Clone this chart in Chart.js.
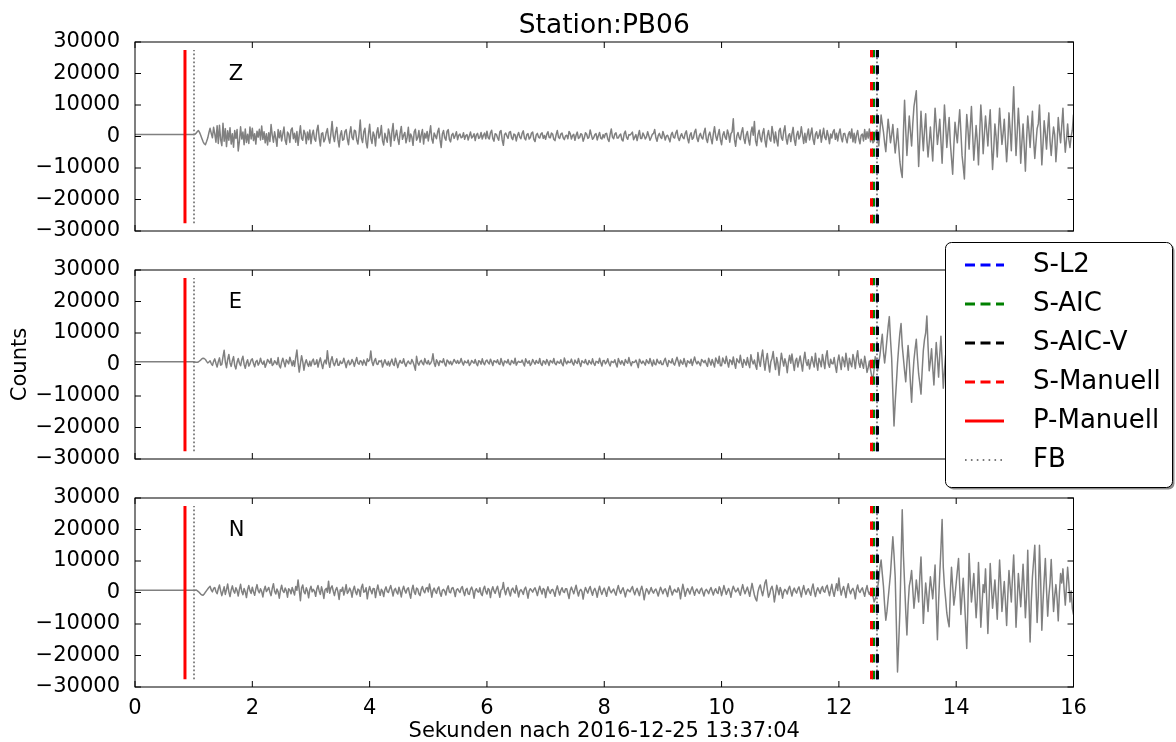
<!DOCTYPE html>
<html>
<head>
<meta charset="utf-8">
<title>Station:PB06</title>
<script src="https://cdn.jsdelivr.net/npm/chart.js@4.4.1/dist/chart.umd.min.js"></script>
<style>
  html, body { margin: 0; padding: 0; background: #fff; }
  #wrap { position: relative; width: 1176px; height: 742px; overflow: hidden; }
  #wrap canvas { position: absolute; left: 0; top: 0; }
</style>
</head>
<body>
<div id="wrap">
  <canvas id="panelZ" width="1176" height="742"></canvas>
  <canvas id="panelE" width="1176" height="742"></canvas>
  <canvas id="panelN" width="1176" height="742"></canvas>
</div>
<script>
// ---- Recorded traces, one sample every 0.02 s from 0 s to 16 s (thousands of counts) ----
// each line holds half a second (25 samples)
const sampleInterval = 0.02;

const traceZ = [
  0.6,0.6,0.6,0.6,0.6,0.6,0.6,0.6,0.6,0.6,0.6,0.6,0.6,0.6,0.6,0.6,0.6,0.6,0.6,0.6,0.6,0.6,0.6,0.6,0.6,
  0.6,0.6,0.6,0.6,0.6,0.6,0.6,0.6,0.6,0.6,0.6,0.6,0.6,0.6,0.6,0.6,0.6,0.6,0.6,0.6,0.6,0.6,0.6,0.6,0.6,
  0.6,0.7,1.0,1.5,1.9,1.3,0.4,-0.6,-1.6,-2.3,-2.6,-1.6,-0.5,1.2,2.6,1.0,-0.4,2.9,0.8,-1.8,3.4,-2.2,3.6,-1.0,-2.9,
  4.2,-1.5,2.5,-3.2,1.8,-1.2,2.8,-2.4,0.9,-3.4,1.9,-0.6,2.2,-4.6,-1.5,3.1,-0.8,1.4,-2.6,2.4,-1.9,0.7,-2.2,3.0,-0.8,
  2.6,-1.3,0.9,-2.4,1.7,-0.2,2.3,-1.1,3.3,-0.9,1.5,-2.0,0.9,-2.7,1.2,-1.6,3.8,0.4,-1.8,1.5,-0.6,-3.1,2.2,-0.4,1.8,
  -1.4,0.8,3.0,-1.2,-2.5,1.4,0.8,-1.9,2.1,2.7,-0.7,1.0,-1.8,1.6,-2.8,0.5,3.4,-0.6,-1.2,2.0,0.9,-2.3,1.4,-1.0,2.1,
  -2.3,0.6,2.0,-0.8,-1.5,1.9,3.6,-0.4,-3.0,0.9,1.2,-1.7,-0.8,1.3,2.5,-0.6,-2.1,1.0,4.8,0.2,-1.6,1.4,2.9,-1.0,-3.3,
  0.4,1.8,-1.2,-0.9,1.6,2.2,-0.8,-2.6,1.1,3.1,-0.3,-1.0,2.0,1.7,-1.1,-2.4,0.8,5.2,-0.5,-1.9,1.5,2.6,-1.8,-3.6,0.7,
  3.9,-0.6,-2.2,1.4,0.3,-3.0,1.2,2.8,-0.5,0.6,3.5,-1.4,-2.7,1.0,-0.4,-1.8,2.4,0.9,-3.1,1.5,4.1,-1.3,0.2,2.0,-0.7,
  -2.5,1.1,3.2,-0.9,0.4,1.3,-2.0,-0.3,2.9,-1.6,0.8,-0.2,-2.8,1.5,2.3,-1.2,-0.4,1.9,-1.8,0.6,2.2,-2.4,1.0,-0.5,1.6,
  -1.4,0.9,3.4,-0.8,-2.1,1.1,0.2,-0.7,1.5,2.6,-1.0,-3.5,0.8,1.9,-0.4,-1.2,1.6,2.2,-0.9,-1.7,0.5,1.0,-0.6,0.3,1.5,
  -1.0,0.4,0.8,-0.4,-0.2,1.2,-0.9,0.3,0.6,-1.1,0.2,1.4,-0.5,0.0,0.9,-1.3,0.5,1.0,-0.6,-0.2,1.3,-0.8,0.4,1.1,-0.7,
  1.7,-0.3,-0.8,1.2,2.0,-0.6,-1.5,0.9,0.7,-0.4,-1.2,1.5,1.9,-1.1,-2.8,0.6,1.1,0.2,-0.6,1.3,1.6,-0.4,-1.0,0.8,0.5,
  -1.4,0.3,1.3,-0.2,-0.7,1.0,1.8,-0.5,-1.1,0.6,0.9,-0.8,-0.3,1.1,1.4,-0.9,-1.6,0.5,1.0,-0.2,-0.5,0.8,1.2,-0.6,0.3,
  -0.9,0.7,1.5,-0.3,-0.4,1.1,0.8,-0.9,-1.3,0.6,1.9,-0.2,-0.6,0.8,1.1,-0.4,-1.0,0.2,0.4,-0.7,1.6,0.9,-0.8,0.3,0.7,
  -1.2,0.4,1.4,-0.6,-0.3,0.9,0.6,-1.5,-0.4,1.2,0.7,-0.6,-0.2,2.1,0.5,-0.9,-0.4,0.6,0.9,-1.1,0.2,1.3,-0.5,-0.8,0.6,
  -0.4,0.9,1.0,-0.8,-1.6,0.7,2.4,-0.2,-0.7,0.8,1.2,-0.5,-0.5,0.4,0.8,-1.0,-1.4,0.9,1.7,-0.3,-0.9,0.6,0.5,0.9,1.4,
  -1.0,-0.2,0.6,-1.3,0.4,1.9,-0.6,-0.6,1.1,0.3,-0.8,-0.1,1.5,0.2,-1.2,-0.3,0.7,1.0,2.2,-0.4,-1.5,0.3,1.0,-0.2,-0.6,
  1.6,0.4,-1.1,0.2,0.4,-0.6,-1.7,0.5,1.3,-0.2,-0.5,1.1,2.0,-0.4,-1.3,0.1,0.9,-0.3,-0.7,1.0,1.8,-0.6,-2.0,0.4,1.2,
  -0.9,-0.4,1.4,2.3,-0.5,-1.6,0.2,1.0,-0.3,-0.8,1.3,2.6,-0.8,-1.9,0.5,1.4,-0.6,-2.3,0.9,3.1,0.2,-1.2,0.6,2.2,-1.0,
  -2.6,0.4,1.5,-0.2,-0.9,2.1,0.8,-1.8,0.9,1.5,5.6,-1.0,-3.1,0.2,1.3,-0.3,-1.0,1.4,2.8,-0.6,-2.2,0.5,1.6,-1.1,-2.7,
  1.2,3.0,0.4,4.8,-1.4,-2.9,0.6,2.0,-0.5,-1.7,1.1,2.5,-1.2,-3.3,0.3,1.9,-0.7,-1.5,3.2,0.9,-2.0,1.4,-1.2,-3.0,1.8,
  2.6,-0.4,-1.2,1.7,3.4,-0.6,-2.4,0.3,0.9,-1.6,0.8,2.9,-1.0,-2.8,0.5,1.7,-0.8,0.2,3.1,0.4,-2.2,1.0,-1.9,0.6,2.4,
  -1.1,0.8,2.7,-0.9,-2.5,0.7,1.5,-0.6,0.3,2.1,-1.8,0.4,2.6,-0.3,-1.0,1.9,0.2,-2.3,0.8,-0.5,1.5,2.2,-0.9,1.0,-1.4,
  1.0,2.4,-0.3,-1.7,0.9,1.0,-0.6,-2.0,0.6,1.5,-0.5,2.4,-1.7,1.0,-2.0,0.5,1.9,-0.8,-2.3,0.4,0.8,-1.4,2.2,-0.9,1.5,
  -0.5,2.4,-1.7,1.0,-2.0,-1.5,0.5,2.0,-0.8,-3.0,1.5,6.8,4.0,1.5,-2.0,-4.8,0.5,5.5,2.0,-2.0,0.5,3.8,-1.0,-5.2,-1.5,
  2.5,-3.0,-8.0,-11.0,-13.0,1.0,11.5,2.0,-6.0,0.5,6.5,1.5,-3.0,4.0,9.5,12.0,14.5,2.0,-9.5,-1.0,8.0,1.5,-4.5,2.0,7.2,
  -1.0,-6.5,-2.0,3.0,-2.5,-7.8,1.0,9.0,3.5,-2.5,1.0,5.5,-1.5,-8.5,0.5,10.0,4.0,-3.5,1.5,6.0,-2.0,-7.0,-12.0,-3.0,4.5,
  1.0,-2.0,3.5,8.5,1.5,-6.0,-9.5,-13.5,-2.0,7.0,2.5,-4.0,3.0,9.5,1.0,-7.5,-2.0,3.5,-1.5,-9.0,1.0,10.0,4.0,-5.5,0.5,
  6.5,2.0,-3.0,3.5,8.5,-2.0,-10.5,-4.0,4.0,0.0,-6.5,1.5,9.0,3.0,-2.5,1.0,5.5,-1.5,-8.0,-2.0,7.5,2.0,-4.5,6.0,15.8,
  4.0,-6.0,1.0,9.0,2.5,-8.5,-2.0,4.0,-3.0,-11.0,-1.0,6.5,2.0,-3.5,2.5,8.0,-1.0,-7.0,-2.0,2.5,4.0,10.0,1.0,-9.0,-2.5,
  5.0,1.0,-4.0,2.5,7.5,-1.5,-6.0,-1.0,3.0,0.5,-8.0,-2.5,6.0,1.5,-2.0,3.5,9.0,0.5,-5.0,-1.0,4.0,-1.0,-3.5,0.0,2.0,
  7.0
];

const traceE = [
  0.9,0.9,0.9,0.9,0.9,0.9,0.9,0.9,0.9,0.9,0.9,0.9,0.9,0.9,0.9,0.9,0.9,0.9,0.9,0.9,0.9,0.9,0.9,0.9,0.9,
  0.9,0.9,0.9,0.9,0.9,0.9,0.9,0.9,0.9,0.9,0.9,0.9,0.9,0.9,0.9,0.9,0.9,0.9,0.9,0.9,0.9,0.9,0.9,0.9,0.9,
  0.9,0.8,0.7,0.7,0.8,1.1,1.4,1.8,2.0,1.9,1.6,1.0,0.5,0.8,1.2,0.3,-0.3,1.0,1.8,0.4,-0.8,0.9,2.1,-0.2,0.0,
  2.4,4.5,0.8,-1.0,1.6,3.2,0.5,-0.6,1.2,2.5,-0.3,-1.4,0.7,1.9,0.4,-0.4,1.5,2.6,0.1,-1.2,0.6,1.5,-0.5,0.2,1.4,
  1.8,0.3,-0.7,0.9,1.3,-0.2,0.5,2.0,0.6,0.1,1.1,-0.9,0.2,1.6,1.0,0.4,1.9,-0.3,0.1,1.2,0.6,0.0,2.2,-0.4,-1.1,
  0.8,2.0,0.6,-0.7,1.5,0.9,0.2,2.3,1.0,-0.4,1.2,-0.6,2.2,4.6,0.5,-2.4,0.3,2.8,0.9,-1.8,0.4,1.5,0.2,-0.6,1.0,
  -0.5,1.1,1.7,0.0,0.2,1.5,-0.8,0.9,2.1,0.3,-1.3,0.6,1.4,0.2,4.4,1.0,-0.9,1.3,2.5,0.5,-0.4,0.8,1.8,-0.2,-0.2,
  1.1,0.3,0.6,2.0,0.5,-1.0,0.7,1.3,-0.1,0.3,1.6,0.8,-0.6,1.0,2.2,0.4,0.1,1.2,1.0,-0.2,1.4,0.6,-0.3,1.8,1.0,
  1.4,4.3,0.9,-0.3,1.1,1.9,0.2,0.0,1.2,0.9,1.3,-0.8,0.4,1.5,0.4,-0.2,1.0,-0.5,0.7,1.7,0.1,-0.3,2.0,0.6,-1.0,
  0.4,1.3,0.5,0.5,1.8,0.2,-0.6,0.6,1.1,0.3,0.2,1.6,0.8,-0.4,-1.8,2.6,0.5,-0.2,0.9,1.3,0.4,-0.1,1.9,0.7,0.2,
  1.3,0.0,0.4,1.2,3.4,0.5,-0.6,1.5,0.8,-0.3,1.2,0.9,0.6,1.8,0.2,-0.5,1.4,1.0,0.2,1.0,-0.1,0.6,1.6,0.9,0.4,
  1.3,0.3,0.7,1.9,0.6,-0.2,1.1,0.7,0.5,1.4,-0.3,0.2,1.3,0.8,0.4,1.6,0.3,-0.4,1.2,1.0,0.1,1.8,0.5,-0.1,1.1,
  1.4,0.6,0.2,1.7,0.8,-0.3,1.2,1.0,0.6,1.5,0.3,0.0,1.9,0.6,-0.4,1.1,0.9,0.5,1.6,0.2,-0.1,1.3,0.8,0.3,2.0,
  -0.2,0.6,1.0,0.7,0.7,1.4,0.4,-0.5,1.8,0.9,0.4,1.2,-0.3,0.3,1.6,0.8,0.1,1.3,0.6,0.4,1.9,0.2,-0.3,1.2,0.9,
  0.1,1.6,0.8,-0.3,1.3,0.9,0.5,1.9,0.3,-0.1,1.0,0.6,0.4,1.5,0.2,-0.4,2.1,0.9,0.2,1.1,0.6,0.6,1.7,0.4,-0.2,
  1.4,0.7,0.3,1.9,0.5,-0.6,1.2,0.8,0.5,1.6,0.3,-0.1,1.3,0.6,0.2,1.8,0.4,-0.3,1.0,0.9,0.4,2.0,0.6,-0.5,1.2,
  1.3,0.2,0.7,1.8,0.4,-0.5,1.0,0.8,0.6,1.5,0.2,-0.8,1.9,0.9,0.1,1.2,0.5,-0.3,1.6,0.8,0.4,2.2,0.6,-0.4,0.9,
  0.6,0.8,1.4,0.3,-1.0,1.7,0.9,0.3,1.1,0.5,-0.2,1.5,0.8,0.3,1.9,0.6,-0.5,1.4,0.2,-0.1,1.7,0.7,0.3,1.2,0.0,
  0.0,1.2,2.0,0.4,-0.6,1.3,0.8,0.5,1.8,0.3,-0.2,1.1,2.3,1.0,-0.5,1.4,0.6,0.1,1.9,0.5,-0.7,1.2,0.8,0.4,1.7,
  -0.3,1.0,2.4,0.9,0.2,1.0,0.4,-0.4,1.6,1.1,0.6,1.3,0.2,-0.6,2.0,0.9,-0.2,1.6,0.4,-0.8,2.1,1.2,0.3,2.6,-0.4,
  -0.4,2.1,1.0,0.3,2.6,0.8,-0.8,1.5,1.2,0.0,2.4,0.3,-1.2,1.8,1.1,0.5,2.9,0.6,-0.9,1.6,0.7,-0.2,2.2,0.4,-1.0,
  3.1,1.2,0.2,1.4,-0.4,-1.5,3.8,1.0,-0.6,2.4,4.6,0.8,-1.8,1.5,3.5,0.2,-2.4,0.9,2.0,4.1,0.6,-1.6,2.2,0.5,-3.4,
  0.2,3.6,1.4,-0.5,1.8,0.3,-2.6,0.8,2.9,0.4,3.3,0.6,-1.9,1.2,2.0,-0.8,1.0,2.7,0.3,-2.1,1.5,3.9,0.9,-0.3,1.5,
  -1.4,0.5,2.5,0.6,-0.8,3.6,0.4,-1.8,2.0,0.9,-0.7,3.2,1.0,-1.3,2.5,4.4,0.2,-0.9,1.7,0.3,0.2,2.2,-0.5,-2.5,1.1,
  3.0,0.6,-1.6,2.4,1.2,-0.7,3.6,0.9,-1.8,2.0,0.3,-0.7,3.2,1.4,-1.3,2.2,4.4,0.5,-0.9,1.7,0.2,-1.2,2.6,0.4,-2.5,
  -1.0,1.1,-1.6,-3.8,-5.0,-1.5,2.5,0.0,-2.0,0.5,3.0,6.5,9.6,4.0,0.5,4.0,8.0,12.0,15.2,8.0,2.0,-9.0,-19.5,-12.0,-6.0,
  0.5,5.5,10.0,13.0,6.0,2.0,-2.0,-5.5,0.5,6.0,1.0,-6.0,-12.0,-4.0,1.5,5.0,8.0,2.0,-3.0,-6.0,-9.4,-2.0,4.5,8.0,10.0,
  15.4,6.0,-2.0,1.0,5.0,-1.0,-6.5,0.5,7.0,2.0,-4.0,3.0,9.0,1.0,-7.5,-2.0,3.0,-3.0,-10.0,0.5,8.5,2.0,-5.0,1.0,6.0,
  -2.0,-8.0,1.0,11.0,4.0,-3.5,0.5,5.5,-2.0,-9.5,-1.0,7.0,2.0,-2.0,1.0,4.5,-1.5,-6.5,1.0,9.5,3.0,-4.0,-1.0,3.0,-2.0,
  -7.0,0.5,8.0,2.0,-5.5,-1.0,2.5,-3.0,-8.5,1.0,10.0,3.0,-3.0,1.5,6.0,-2.0,-9.0,-1.0,4.0,1.0,-2.5,2.5,7.5,0.0,-6.0,
  5.0,1.0,-7.5,-1.0,9.0,2.0,-3.5,-0.5,2.0,-2.0,-6.0,1.5,8.5,2.0,-4.5,1.0,6.5,-1.5,-8.0,-2.0,3.5,0.5,-2.0,2.5,7.0,
  1.0,-5.0,-0.5,4.5,-2.0,-9.5,-1.0,8.0,2.0,-3.0,1.0,5.5,-1.0,-6.5,0.5,2.5,-1.0,-4.0,2.0,7.5,1.0,-5.5,-1.0,3.0,1.0,
  -1.0
];

const traceN = [
  0.7,0.7,0.7,0.7,0.7,0.7,0.7,0.7,0.7,0.7,0.7,0.7,0.7,0.7,0.7,0.7,0.7,0.7,0.7,0.7,0.7,0.7,0.7,0.7,0.7,
  0.7,0.7,0.7,0.7,0.7,0.7,0.7,0.7,0.7,0.7,0.7,0.7,0.7,0.7,0.7,0.7,0.7,0.7,0.7,0.7,0.7,0.7,0.7,0.7,0.7,
  0.7,0.75,0.8,0.6,0.3,-0.1,-0.5,-0.8,-0.9,-0.5,0.1,0.6,1.1,1.6,2.0,0.8,0.2,1.3,1.6,0.3,-0.4,1.2,2.4,0.5,-1.0,
  0.4,1.8,-0.6,0.9,2.7,0.2,-1.3,0.8,2.1,0.5,-0.2,1.5,0.6,-1.1,1.0,2.6,0.3,-0.7,1.3,0.2,-1.6,0.9,2.2,0.6,-0.3,
  1.7,0.2,-0.9,1.1,2.5,0.6,-0.1,1.2,0.3,-1.4,0.8,2.0,0.3,0.9,1.6,0.1,-1.0,1.3,2.8,0.4,-0.5,1.1,0.2,-1.8,0.7,
  2.3,0.5,0.0,1.4,0.6,-1.5,1.2,0.8,-0.4,1.6,0.4,-0.8,1.9,0.7,4.0,0.8,-2.6,1.4,2.4,0.2,-0.4,1.5,0.5,-1.7,0.9,
  2.0,0.2,1.0,0.4,-1.2,1.1,2.2,0.5,-0.6,1.8,0.3,-1.9,0.9,1.3,0.1,3.6,-0.2,1.5,2.1,0.4,-1.0,0.8,1.6,0.2,-2.2,
  0.9,0.4,1.7,-0.8,0.6,2.5,-0.3,0.3,1.4,0.5,-1.5,0.8,2.0,0.2,-0.7,1.1,0.8,-1.2,1.6,2.6,0.1,0.3,1.5,-2.0,0.4,
  1.9,0.6,-0.4,1.3,1.2,-1.6,0.7,2.4,0.5,-0.9,1.0,0.4,-1.3,0.9,1.8,0.3,0.0,1.2,2.2,0.6,-1.1,0.8,1.3,0.1,-0.5,
  1.7,0.4,-1.4,0.8,2.0,0.6,-0.2,1.1,1.5,-0.3,-1.8,0.9,2.3,0.2,-0.6,1.4,1.1,-0.4,-1.0,1.0,1.9,0.5,-0.1,1.3,1.6,
  0.2,2.7,0.8,-1.5,0.6,1.4,0.3,-0.3,1.2,1.8,-0.2,-1.2,0.7,1.0,0.4,-0.8,1.2,2.1,0.1,-0.1,1.3,1.6,0.4,-1.3,0.8,
  1.2,0.5,0.0,1.4,1.9,0.2,-1.0,0.9,1.3,-0.4,-0.6,1.0,1.7,0.5,-1.8,0.6,1.2,0.3,0.1,1.5,-0.4,-1.0,1.1,2.0,0.3,
  -0.5,1.3,0.8,-1.6,0.7,1.8,0.5,-0.3,1.0,2.0,0.2,-1.5,0.8,1.1,3.2,0.6,-0.7,1.0,1.6,0.1,-1.1,0.9,1.4,0.3,-0.2,
  2.2,0.6,-1.4,0.4,0.9,0.3,-0.6,1.1,1.7,0.2,-1.8,0.5,1.2,0.7,0.1,1.0,1.5,0.4,-1.0,0.7,2.0,0.6,-0.5,1.3,0.9,
  -1.6,0.5,1.8,0.4,-0.3,0.8,1.0,0.1,-1.2,0.9,2.1,0.5,-0.8,0.7,1.5,0.3,0.0,1.2,1.2,-0.4,-1.9,0.6,1.7,0.6,-0.4,
  1.0,2.3,0.4,-1.1,0.5,1.0,0.3,-2.1,0.2,1.6,0.6,-0.2,1.1,1.9,0.3,-0.9,0.7,1.3,0.2,-1.5,0.6,2.0,0.4,-0.6,0.6,
  1.4,0.2,-1.2,0.8,1.8,0.5,-0.1,0.6,1.1,0.0,-0.9,1.0,2.2,0.6,-0.3,0.8,1.5,0.2,-1.4,0.3,1.0,0.5,0.2,1.2,1.9,
  0.4,-0.7,0.6,1.3,0.1,-1.0,0.9,2.0,0.3,-2.3,-0.2,1.2,0.6,-0.5,0.5,1.6,0.4,-0.2,0.7,1.1,0.1,-1.1,0.4,1.7,0.6,
  -0.4,0.8,1.2,0.1,-1.3,0.9,2.1,0.5,-0.8,0.4,1.0,0.3,0.1,1.5,0.6,-2.0,0.5,2.6,0.8,-1.2,0.3,1.3,0.5,-0.5,0.9,
  1.8,0.4,-0.9,0.6,1.1,0.2,-0.3,0.9,1.4,0.1,-1.1,0.5,1.0,0.4,-0.4,0.8,1.6,0.3,-0.8,0.6,1.2,0.0,-0.3,1.8,1.0,
  -1.0,0.5,2.2,0.8,-0.6,0.4,1.3,0.2,-1.5,0.7,2.0,1.0,0.2,0.6,1.4,0.1,-0.9,1.0,2.5,0.8,-0.4,0.7,1.7,0.3,-1.2,
  0.9,2.9,1.0,-0.8,-2.0,-2.7,0.2,1.6,2.4,0.5,-1.0,0.9,3.1,4.0,1.0,-1.5,-0.5,1.2,2.0,0.3,-3.0,-0.6,2.3,0.8,-0.7,
  1.6,0.4,-1.8,0.2,1.0,0.5,-0.5,1.2,2.0,0.4,-1.1,0.6,1.4,0.3,-0.2,1.1,1.8,0.2,-1.4,0.8,2.2,0.5,-0.6,0.7,1.2,
  0.1,-0.9,1.4,2.7,0.3,-1.3,0.5,1.5,0.6,-0.3,1.2,1.9,0.4,0.1,1.6,2.3,0.5,-1.0,0.9,2.6,0.2,-1.2,1.0,2.8,0.6,
  4.6,1.2,-0.8,0.9,1.9,0.3,-1.6,1.1,2.8,0.6,-0.4,0.8,1.3,0.2,-2.0,1.0,2.4,0.5,0.0,0.9,1.5,0.1,-1.2,0.8,2.2,
  0.3,-0.6,0.4,0.8,-1.0,-3.0,-2.0,-1.0,1.5,4.0,8.0,10.3,6.0,2.0,-4.0,-8.8,-6.0,-2.0,2.0,6.0,12.0,17.7,12.0,5.0,-10.0,
  -25.2,-16.0,-6.0,10.0,26.3,12.0,3.0,-6.0,-13.5,-4.0,2.0,4.0,7.0,1.0,-5.0,-1.0,4.0,0.5,-3.0,5.0,11.3,1.0,-9.8,-3.0,3.0,
  -1.0,-6.0,0.0,5.0,1.5,-2.0,3.0,8.7,-4.0,-15.0,-3.0,6.0,14.0,23.2,8.0,2.0,-2.0,-6.5,-9.0,-10.9,0.0,8.0,2.0,-4.0,-1.0,
  3.0,7.0,10.8,2.0,-7.0,-1.0,4.5,-2.0,-9.5,-17.8,-4.0,12.4,4.0,-3.0,1.0,6.0,-1.0,-8.0,-2.0,9.5,1.0,-11.0,-4.0,2.5,0.0,
  7.5,-2.0,-13.0,-3.0,9.2,2.0,-5.0,-0.5,4.0,-2.0,-8.5,1.0,10.3,3.0,-6.0,-1.0,3.5,-3.0,-10.5,-1.0,7.0,2.0,-3.0,5.0,11.9,
  2.0,-11.0,-3.0,6.0,1.0,-4.5,2.0,9.0,1.0,-8.0,-1.0,13.4,-2.0,-15.7,-3.0,5.0,10.0,15.0,2.0,-9.5,-1.0,15.0,4.0,-12.0,-3.0,
  4.0,10.8,1.0,-7.5,-1.0,3.0,10.5,2.0,-6.0,-1.0,2.5,-2.0,-9.0,0.0,6.0,3.0,7.5,1.0,-4.0,2.0,8.0,3.0,-3.0,0.5,-5.0,
  -7.0
];

// ---- Components and picks (seconds after 2016-12-25 13:37:04) ----
const components = ['Z', 'E', 'N'];
const pickNames = ['S-L2', 'S-AIC', 'S-AIC-V', 'S-Manuell', 'P-Manuell', 'FB'];
const sL2Time = 12.655;
const sAicTime = 12.59;
const sAicVTime = 12.657;
const sManuellTime = 12.556;
const pManuellTime = 0.852;
const fbTimes = [1.006, 12.65];
const pickExtent = [-27500, 27500];

// ---- Axis ticks ----
const xTicks = [0, 2, 4, 6, 8, 10, 12, 14, 16];
const yTicks = [-30000, -20000, -10000, 0, 10000, 20000, 30000];

// ---- Layout ----
const FONT = 'DejaVu Sans';
const W = 1176, H = 742;
const plotLeft = 135, plotRight = 1073.5;
const panelTops = [42, 270, 498];
const panelHeight = 189;
const xAxisBand = 55;   // room under the bottom panel for tick labels and axis title
const tickLen = 6;

Chart.defaults.font.family = FONT;
Chart.defaults.color = '#000';

const toPoints = trace => trace.map((v, i) => ({ x: +(i * sampleInterval).toFixed(2), y: v * 1000 }));
const vline = t => [{ x: t, y: pickExtent[0] }, { x: t, y: pickExtent[1] }];
const fmtCount = v => (v < 0 ? '\u2212' + Math.abs(v) : String(v));

const pickStyles = {
  'S-L2':      { color: '#0000ff', width: 3, dash: [8.3, 8.3], order: 5 },
  'S-AIC':     { color: '#008000', width: 3, dash: [8.3, 8.3], order: 4 },
  'S-AIC-V':   { color: '#000000', width: 3, dash: [8.3, 8.3], order: 3 },
  'S-Manuell': { color: '#ff0000', width: 3, dash: [8.3, 8.3], order: 2 },
  'P-Manuell': { color: '#ff0000', width: 3, dash: [],         order: 1 },
  'FB':        { color: '#7a7a7a', width: 1.8, dash: [1.6, 2.4], order: 6 }
};
const pickTimes = {
  'S-L2': [sL2Time], 'S-AIC': [sAicTime], 'S-AIC-V': [sAicVTime],
  'S-Manuell': [sManuellTime], 'P-Manuell': [pManuellTime], 'FB': fbTimes
};

function panelDatasets(trace) {
  const ds = [{
    label: 'trace', data: toPoints(trace), borderColor: '#808080', borderWidth: 1.5,
    borderJoinStyle: 'round', pointRadius: 0, order: 10
  }];
  pickNames.forEach(name => {
    const s = pickStyles[name];
    pickTimes[name].forEach(t => ds.push({
      label: name, data: vline(t), borderColor: s.color, borderWidth: s.width,
      borderDash: s.dash, pointRadius: 0, order: s.order
    }));
  });
  return ds;
}

// Frame, inward tick marks and the component letter of each panel
const panelFrame = {
  id: 'panelFrame',
  afterDraw(chart, args, opts) {
    const { ctx, chartArea: a, scales: { x, y } } = chart;
    ctx.save();
    ctx.strokeStyle = '#000';
    ctx.lineWidth = 1;
    ctx.beginPath();
    x.ticks.forEach(t => {
      const px = x.getPixelForValue(t.value);
      ctx.moveTo(px, a.top); ctx.lineTo(px, a.top + tickLen);
      ctx.moveTo(px, a.bottom); ctx.lineTo(px, a.bottom - tickLen);
    });
    y.ticks.forEach(t => {
      const py = y.getPixelForValue(t.value);
      ctx.moveTo(a.left, py); ctx.lineTo(a.left + tickLen, py);
      ctx.moveTo(a.right, py); ctx.lineTo(a.right - tickLen, py);
    });
    ctx.stroke();
    ctx.strokeRect(a.left, a.top, a.right - a.left, a.bottom - a.top);
    ctx.fillStyle = '#000';
    ctx.font = '21px "' + FONT + '"';
    ctx.textAlign = 'left';
    ctx.textBaseline = 'alphabetic';
    ctx.fillText(opts.label, x.getPixelForValue(1.6), y.getPixelForValue(18000));
    ctx.restore();
  }
};

// Legend box listing the picks, drawn over the middle panel
const pickLegend = {
  id: 'pickLegend',
  afterDraw(chart, args, opts) {
    if (!opts.show) return;
    const ctx = chart.ctx;
    const bx = 945.5, by = 242.5, bw = 227, bh = 245, r = 6;
    ctx.save();
    ctx.fillStyle = 'rgba(0,0,0,0.45)';
    ctx.beginPath(); ctx.roundRect(bx + 2, by + 2, bw, bh, r); ctx.fill();
    ctx.fillStyle = '#fff';
    ctx.beginPath(); ctx.roundRect(bx, by, bw, bh, r); ctx.fill();
    ctx.strokeStyle = '#000'; ctx.lineWidth = 1; ctx.stroke();
    ctx.font = '26px "' + FONT + '"';
    ctx.textBaseline = 'middle';
    ctx.textAlign = 'left';
    pickNames.forEach((name, i) => {
      const ds = chart.data.datasets.find(d => d.label === name);
      const yy = 265 + i * 39;
      ctx.beginPath();
      ctx.strokeStyle = ds.borderColor;
      ctx.lineWidth = ds.borderWidth;
      const dash = name === 'FB' ? [1.6, 4.3] : (ds.borderDash.length ? [10, 5.5] : []);
      ctx.setLineDash(dash);
      ctx.moveTo(965, yy); ctx.lineTo(1004, yy);
      ctx.stroke();
      ctx.setLineDash([]);
      ctx.fillStyle = '#000';
      ctx.fillText(name, 1033, yy);
    });
    ctx.restore();
  }
};

function makePanel(canvasId, idx, trace) {
  const isTop = idx === 0, isBottom = idx === 2;
  const top = panelTops[idx];
  const bottom = top + panelHeight;
  const titleFont = 26.5, titleLine = titleFont * 1.2, titlePadTop = 10;
  return new Chart(document.getElementById(canvasId), {
    type: 'line',
    data: { datasets: panelDatasets(trace) },
    plugins: [panelFrame, pickLegend],
    options: {
      responsive: false,
      animation: false,
      events: [],
      layout: {
        padding: {
          left: 0,
          right: W - plotRight,
          top: isTop ? 0 : top,
          bottom: isBottom ? 0 : H - bottom
        }
      },
      scales: {
        x: {
          type: 'linear', min: 0, max: 16,
          afterBuildTicks: s => { s.ticks = xTicks.map(v => ({ value: v })); },
          ticks: { display: isBottom, font: { size: 21 }, color: '#000', padding: 1, maxRotation: 0,
                   callback: v => String(v) },
          grid: { display: false }, border: { display: false },
          title: { display: isBottom, text: 'Sekunden nach 2016-12-25 13:37:04',
                   font: { size: 21 }, color: '#000', padding: { top: 0, bottom: -2 } },
          afterFit: s => { s.height = isBottom ? xAxisBand : 0; }
        },
        y: {
          min: -30000, max: 30000,
          afterBuildTicks: s => { s.ticks = yTicks.map(v => ({ value: v })); },
          ticks: { font: { size: 21 }, color: '#000', padding: 7, callback: fmtCount },
          grid: { display: false }, border: { display: false },
          title: { display: idx === 1, text: 'Counts', font: { size: 21 }, color: '#000',
                   padding: { top: 8, bottom: 0 } },
          afterFit: s => { s.width = plotLeft; }
        }
      },
      plugins: {
        legend: { display: false },
        tooltip: { enabled: false },
        title: {
          display: isTop, text: 'Station:PB06', fullSize: false,
          font: { size: titleFont, weight: 'normal' }, color: '#000',
          padding: { top: titlePadTop, bottom: top - titlePadTop - titleLine }
        },
        panelFrame: { label: components[idx] },
        pickLegend: { show: idx === 1 }
      }
    }
  });
}

makePanel('panelZ', 0, traceZ);
makePanel('panelE', 1, traceE);
makePanel('panelN', 2, traceN);
</script>
</body>
</html>
